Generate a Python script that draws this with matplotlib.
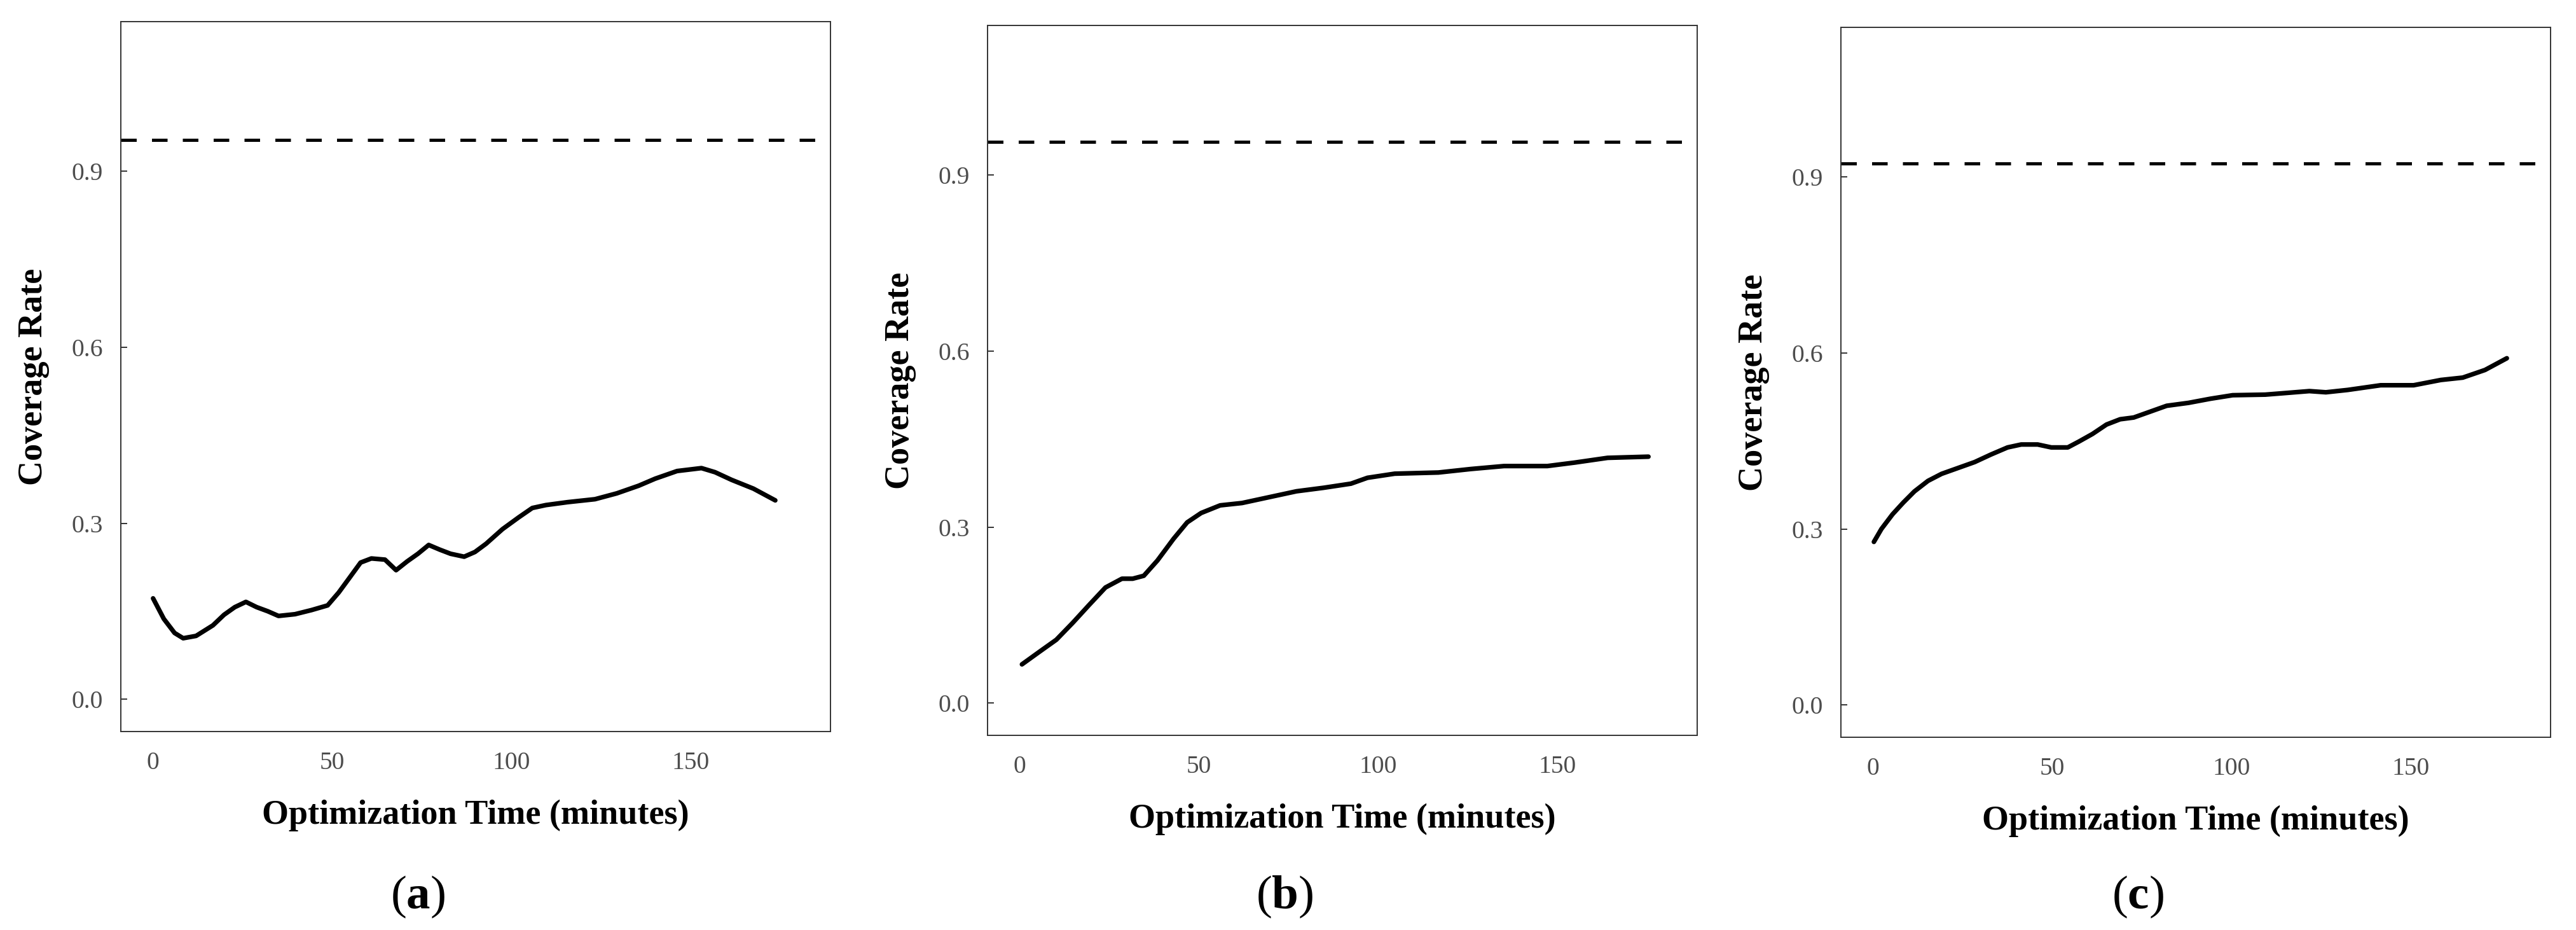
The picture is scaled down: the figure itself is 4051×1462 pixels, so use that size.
import numpy as np
import matplotlib
matplotlib.use("Agg")
import matplotlib.pyplot as plt

plt.rcParams['font.family'] = ['Liberation Serif', 'DejaVu Serif']
plt.rcParams['mathtext.fontset'] = 'custom'
plt.rcParams['mathtext.rm'] = 'Liberation Serif'
plt.rcParams['mathtext.bf'] = 'Liberation Serif:bold'

# ---- data (minutes, coverage rate) ----
time_a = [0, 3, 6, 8.4, 12, 16.7, 19.8, 22.8, 25.9, 28.9, 32, 35, 39.6, 44.2, 48.7,
          51.8, 54.8, 57.9, 60.9, 64.7, 67.8, 70.9, 73.9, 76.9, 80, 83, 86.8, 89.8,
          92.9, 97.5, 102, 105.8, 109.6, 115.7, 123.3, 129.4, 135.5, 140.1, 146.2,
          153, 156.8, 161.4, 167.5, 173.6]
cov_a = [0.172, 0.137, 0.113, 0.104, 0.108, 0.126, 0.144, 0.157, 0.166, 0.157, 0.150,
         0.142, 0.145, 0.152, 0.160, 0.182, 0.207, 0.233, 0.240, 0.238, 0.220, 0.235,
         0.248, 0.263, 0.255, 0.248, 0.243, 0.251, 0.265, 0.290, 0.310, 0.326, 0.331,
         0.336, 0.341, 0.351, 0.364, 0.376, 0.389, 0.394, 0.387, 0.374, 0.359, 0.339]

time_b = [0.6, 5.6, 10.2, 14.8, 19.3, 23.9, 28.5, 31.5, 34.6, 38.4, 42.9, 46.7, 50.6,
          55.9, 62, 69.6, 77.2, 84.8, 92.4, 97, 104.6, 116.8, 125.9, 135.1, 147.2,
          154.9, 164, 175.4]
cov_b = [0.066, 0.088, 0.108, 0.137, 0.167, 0.197, 0.212, 0.212, 0.217, 0.243, 0.280,
         0.308, 0.324, 0.337, 0.341, 0.351, 0.361, 0.367, 0.374, 0.384, 0.391, 0.393,
         0.399, 0.404, 0.404, 0.410, 0.418, 0.420]

time_c = [0.2, 2.3, 5.4, 8.4, 11.5, 15.3, 19.1, 23.7, 28.3, 32.9, 37.5, 41.3, 45.9,
          49.7, 54.3, 57.4, 61.2, 65.1, 68.9, 72.7, 77.3, 81.9, 88, 94.1, 100.3,
          109.4, 115.6, 121.7, 126.3, 132.4, 141.6, 150.8, 158.4, 164.5, 170.7, 176.8]
cov_c = [0.278, 0.300, 0.325, 0.345, 0.364, 0.382, 0.394, 0.404, 0.414, 0.427, 0.439,
         0.444, 0.444, 0.439, 0.439, 0.449, 0.462, 0.478, 0.487, 0.490, 0.500, 0.510,
         0.515, 0.522, 0.528, 0.529, 0.532, 0.535, 0.533, 0.537, 0.545, 0.545, 0.554,
         0.558, 0.571, 0.591]

# dashed reference level per panel
ref_levels = [0.953, 0.957, 0.923]
captions = ['a', 'b', 'c']

x_ticks = [0, 50, 100, 150]
y_ticks = [0.0, 0.3, 0.6, 0.9]
y_ticklabels = ['0.0', '0.3', '0.6', '0.9']

series = [(time_a, cov_a), (time_b, cov_b), (time_c, cov_c)]

W, H = 4051, 1462
fig = plt.figure(figsize=(W / 100, H / 100), dpi=100)

# axes boxes in pixels: left, top, size
boxes = [(190, 34), (1553, 40), (2895, 43)]
size = 1116

for (left, top), (t, c), ref, cap in zip(boxes, series, ref_levels, captions):
    ax = fig.add_axes([left / W, (H - top - size) / H, size / W, size / H])
    ax.plot(t, c, color='black', lw=5.2, solid_capstyle='round',
            solid_joinstyle='round')
    ax.axhline(ref, color='black', lw=3.6, ls=(0, (4.9, 4.8)))
    ax.set_xlim(-9, 189)
    ax.set_ylim(-0.055, 1.155)
    ax.set_xticks(x_ticks)
    ax.set_yticks(y_ticks)
    ax.set_yticklabels(y_ticklabels)
    for s in ax.spines.values():
        s.set_color('#333333')
        s.set_linewidth(1.4)
    ax.tick_params(axis='y', direction='in', length=7.5, width=1.4, color='#333333',
                   labelsize=28.5, labelcolor='#4D4D4D', pad=20)
    ax.tick_params(axis='x', length=0, labelsize=28.5, labelcolor='#4D4D4D', pad=22)
    ax.set_xlabel('Optimization Time (minutes)', fontsize=39, fontweight='bold',
                  labelpad=28)
    ax.set_ylabel('Coverage Rate', fontsize=39, fontweight='bold')
    ax.yaxis.set_label_coords(-112 / size, 0.5)
    # sub-figure caption "(a)" etc.
    cx = (left + size / 2 - 91) / W
    fig.text(cx, 1 - 1410 / H, r'($\mathbf{' + cap + '}$)', fontsize=54,
             ha='center', va='center')

fig.savefig('out.png', dpi=100)
